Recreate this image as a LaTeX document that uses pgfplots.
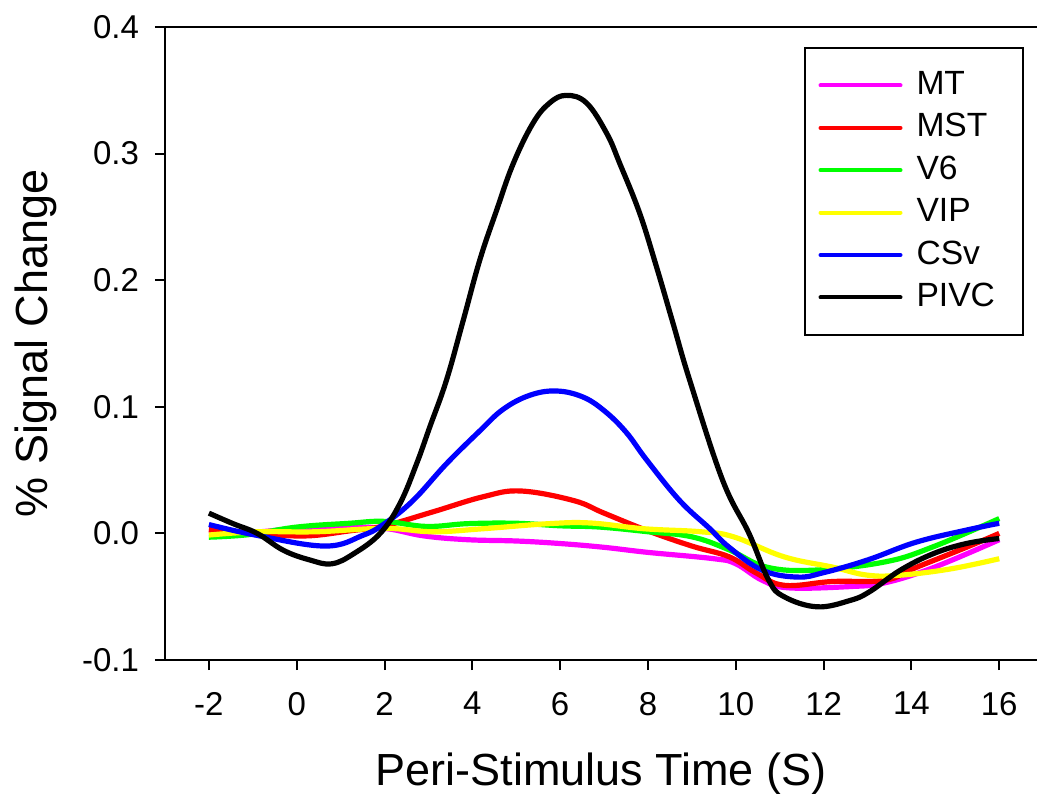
\documentclass[border=0pt]{standalone}
\usepackage{fontspec}
\setmainfont{Liberation Sans}
\usepackage{pgfplots}
\pgfplotsset{compat=1.18}
\usetikzlibrary{calc}
\definecolor{mtmag}{RGB}{255,0,255}
\definecolor{mstred}{RGB}{255,0,0}
\definecolor{vsixgreen}{RGB}{0,255,0}
\definecolor{vipyellow}{RGB}{255,255,0}
\definecolor{csvblue}{RGB}{0,0,255}

\begin{document}
\begin{tikzpicture}
\begin{axis}[
  scale only axis,
  width=436bp, height=316.5bp,
  xmin=-3, xmax=16.86,
  ymin=-0.1, ymax=0.4,
  clip=false,
  axis x line*=bottom,
  axis y line*=left,
  axis line style={line width=1bp, black},
  tick align=outside,
  major tick length=5bp,
  every tick/.style={line width=1bp, black},
  xtick={-2,0,...,16},
  xticklabels={-2,0,2,4,6,8,10,12,14,16},
  ytick={-0.1,0,0.1,0.2,0.3,0.4},
  yticklabels={-0.1,0.0,0.1,0.2,0.3,0.4},
  tick label style={font=\fontsize{16.5bp}{19bp}\selectfont},
  xticklabel style={yshift=-7.5bp},
  yticklabel style={xshift=-4.5bp},
  xlabel={Peri-Stimulus Time (S)},
  ylabel={\% Signal Change},
  label style={font=\fontsize{22.5bp}{26bp}\selectfont},
  xlabel style={at={(axis description cs:0.5,-0.199)}, anchor=base},
  ylabel style={at={(axis description cs:-0.1342,0.5)}, anchor=base},
  legend style={
    at={(axis description cs:0.985,0.968)}, anchor=north east,
    draw=black, line width=1bp,
    font=\fontsize{16.8bp}{20bp}\selectfont,
    inner xsep=7bp, inner ysep=8bp,
    row sep=0pt,
    nodes={inner xsep=7bp, inner ysep=3.1bp, text height=12bp, text depth=3bp},
  },
  legend cell align=left,
  legend image code/.code={\draw[#1, line width=2bp, line cap=round] (0bp,0bp) -- (40bp,0bp);},
  every axis plot/.append style={line width=2.6bp, smooth, tension=0.65},
]
\coordinate (O) at (rel axis cs:0,0);
\draw[line width=1bp] (rel axis cs:0,1) -- (rel axis cs:1,1);

% MT
\addplot[color=mtmag] coordinates {
  (-2,0.002) (-1,0.001) (0,0.004) (1,0.005) (2,0.004) (2.9,-0.002)
  (3.9,-0.005) (5,-0.006) (6,-0.008) (7,-0.011) (8,-0.015) (9.5,-0.020)
  (10,-0.024) (10.6,-0.037) (11.2,-0.043) (12.6,-0.042) (13.4,-0.039)
  (14.5,-0.027) (16,-0.005)
};
\addlegendentry{MT}
% MST
\addplot[color=mstred] coordinates {
  (-2,0.003) (-0.9,0.0) (0.2,-0.002) (1.2,0.002) (2,0.006) (3.1,0.017)
  (4.25,0.029) (5.1,0.0335) (6.3,0.026) (7,0.016) (8,0.002) (9,-0.010)
  (9.85,-0.0185) (10.45,-0.031) (11.1,-0.041) (12.2,-0.038) (13.4,-0.037)
  (14.1,-0.027) (15.25,-0.011) (16,0.0)
};
\addlegendentry{MST}
% V6
\addplot[color=vsixgreen] coordinates {
  (-2,-0.003) (-1.1,-0.001) (0,0.005) (1.2,0.008) (2,0.0095) (2.95,0.0055)
  (3.9,0.0077) (5,0.008) (6,0.006) (6.9,0.005) (8,0.0013) (9,-0.0027)
  (9.85,-0.013) (10.7,-0.0266) (11.8,-0.029) (13.4,-0.0225) (14.5,-0.0105)
  (16,0.0117)
};
\addlegendentry{V6}
% VIP
\addplot[color=vipyellow] coordinates {
  (-2,-0.0013) (-0.9,0.0013) (0.45,0.0013) (2,0.004) (3.1,0.0013)
  (4.25,0.0037) (5.75,0.0077) (6.7,0.0082) (7.9,0.0037) (9.2,0.0013)
  (9.95,-0.0027) (11.1,-0.0185) (12.2,-0.0266) (13,-0.033) (13.75,-0.033)
  (14.9,-0.028) (16,-0.020)
};
\addlegendentry{VIP}
% CSv
\addplot[color=csvblue] coordinates {
  (-2,0.007) (-0.9,-0.0016) (0.65,-0.010) (1.5,-0.0016) (2,0.0077)
  (2.65,0.026) (3.41,0.055) (4.17,0.081) (4.7,0.098) (5.3,0.109)
  (5.9,0.1125) (6.5,0.108) (7.0,0.097) (7.5,0.080) (7.97,0.058)
  (8.72,0.026) (9.4,0.004) (9.85,-0.011) (10.6,-0.029) (11.4,-0.0345)
  (12,-0.031) (13,-0.021) (14.1,-0.007) (15.25,0.0026) (16,0.008)
};
\addlegendentry{CSv}
% PIVC
\addplot[color=black] coordinates {
  (-2,0.016) (-1.45,0.0077) (-0.9,0.0) (-0.3,-0.0134) (0.3,-0.021)
  (0.8,-0.024) (1.3,-0.016) (1.9,0.0) (2.35,0.0235) (2.73,0.055)
  (3.03,0.084) (3.41,0.121) (3.79,0.168) (4.17,0.216) (4.55,0.255)
  (4.93,0.292) (5.38,0.324) (5.76,0.340) (6.14,0.346) (6.6,0.340)
  (7.06,0.316) (7.36,0.292) (7.81,0.253) (8.19,0.211) (8.57,0.166)
  (8.95,0.121) (9.7,0.042) (10.3,0.0) (10.75,-0.037) (11.1,-0.050)
  (11.85,-0.058) (12.6,-0.053) (13.05,-0.046) (13.75,-0.029)
  (14.5,-0.016) (15.25,-0.008) (16,-0.004)
};
\addlegendentry{PIVC\hspace{3bp}}
\end{axis}
\pgfresetboundingbox
\path ($(O)+(-82.5bp,-67bp)$) rectangle ($(O)+(436bp,330bp)$);
\end{tikzpicture}
\end{document}
